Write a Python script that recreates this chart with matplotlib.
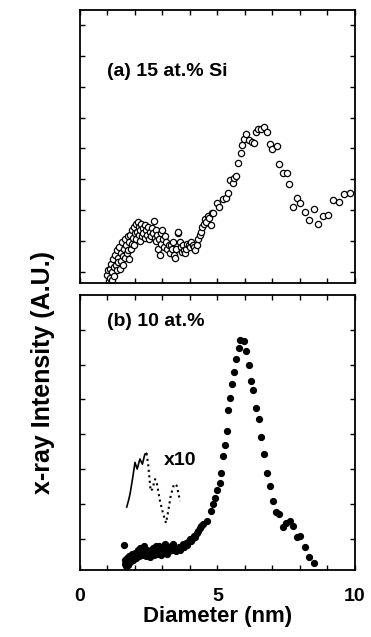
import numpy as np
import matplotlib
matplotlib.use('Agg')
import matplotlib.pyplot as plt

plt.rcParams['font.family'] = ['Liberation Sans', 'DejaVu Sans']
plt.rcParams['font.weight'] = 'bold'

# (a) 15 at.% Si, open circles
x_a = [1.00, 1.02, 1.05, 1.08, 1.10, 1.12, 1.15, 1.18, 1.20, 1.22, 1.25, 1.28, 1.30, 1.33, 1.35,
       1.38, 1.40, 1.43, 1.45, 1.48, 1.50, 1.53, 1.55, 1.58, 1.60, 1.63, 1.65, 1.68, 1.70, 1.73,
       1.75, 1.78, 1.80, 1.83, 1.85, 1.88, 1.90, 1.93, 1.95, 1.98, 2.00, 2.03, 2.05, 2.08, 2.10,
       2.13, 2.15, 2.18, 2.20, 2.23, 2.25, 2.28, 2.30, 2.35, 2.38, 2.40, 2.45, 2.48, 2.50, 2.55,
       2.58, 2.62, 2.65, 2.70, 2.72, 2.75, 2.78, 2.80, 2.85, 2.88, 2.90, 2.93, 2.96, 3.00, 3.03,
       3.06, 3.10, 3.14, 3.18, 3.22, 3.26, 3.30, 3.34, 3.38, 3.42, 3.46, 3.50, 3.55, 3.58, 3.62,
       3.66, 3.70, 3.74, 3.78, 3.82, 3.86, 3.90, 3.95, 4.00, 4.05, 4.10, 4.15, 4.20, 4.25, 4.30,
       4.35, 4.40, 4.45, 4.50, 4.55, 4.60, 4.65, 4.70, 4.75, 4.80,
       4.85, 4.97, 5.07, 5.21, 5.30, 5.39, 5.45, 5.55, 5.60, 5.67, 5.76, 5.84, 5.90, 5.96, 6.04,
       6.16, 6.24, 6.33, 6.40, 6.48, 6.57, 6.70, 6.81, 6.91, 7.00, 7.15, 7.25, 7.37, 7.52, 7.61,
       7.76, 7.90, 8.02, 8.18, 8.34, 8.51, 8.67, 8.85, 9.03, 9.21, 9.41, 9.61, 9.82]
y_a = [-0.10, 0.05, -0.30, 0.10, -0.20, 0.25, 0.00, -0.28, 0.40, 0.15, -0.15, 0.55, 0.20, 0.70, 0.05,
       0.45, 0.30, 0.80, 0.10, 0.60, 0.35, 0.95, 0.50, 0.20, 0.75, 1.05, 0.45, 0.85, 0.60, 1.15,
       0.70, 0.40, 0.95, 1.20, 0.75, 1.35, 0.90, 1.10, 1.45, 0.85, 1.25, 1.55, 1.05, 1.30, 1.60,
       1.20, 1.45, 1.00, 1.35, 1.55, 1.15, 1.40, 1.25, 1.50, 1.10, 1.35, 1.20, 1.45, 1.05, 1.30,
       1.15, 1.40, 1.25, 1.65, 1.10, 1.35, 1.00, 1.20, 0.75, 1.05, 0.55, 0.90, 1.25, 1.35, 1.05,
       0.80, 1.15, 0.95, 0.75, 0.85, 0.60, 0.85, 0.75, 0.95, 0.55, 0.45, 0.75, 1.25, 1.30, 0.95,
       0.80, 0.65, 0.85, 0.70, 0.60, 0.75, 0.90, 0.85, 0.80, 0.95, 0.85, 0.80, 0.70, 0.85, 1.05,
       1.20, 1.30, 1.45, 1.55, 1.70, 1.60, 1.80, 1.75, 1.50, 1.90,
       1.89, 2.22, 2.09, 2.35, 2.38, 2.56, 2.97, 2.89, 3.03, 3.10, 3.51, 3.84, 4.11, 4.29, 4.46,
       4.27, 4.22, 4.16, 4.53, 4.63, 4.62, 4.68, 4.52, 4.14, 3.98, 4.08, 3.49, 3.19, 3.19, 2.84,
       2.11, 2.40, 2.22, 1.95, 1.68, 2.02, 1.55, 1.81, 1.84, 2.32, 2.27, 2.52, 2.56]

# (b) 10 at.%, filled circles
x_b = [1.61, 1.62, 1.65, 1.68, 1.70, 1.72, 1.75, 1.78, 1.80, 1.83, 1.86, 1.90, 1.93, 1.96, 2.00,
       2.03, 2.06, 2.10, 2.13, 2.16, 2.20, 2.24, 2.28, 2.32, 2.36, 2.40, 2.44, 2.48, 2.52, 2.56,
       2.60, 2.64, 2.68, 2.72, 2.76, 2.80, 2.84, 2.88, 2.92, 2.96, 3.00, 3.04, 3.08, 3.12, 3.16,
       3.20, 3.25, 3.30, 3.35, 3.40, 3.45, 3.50, 3.55, 3.60, 3.65, 3.70, 3.75, 3.80, 3.85, 3.90,
       3.95, 4.00, 4.05, 4.10, 4.15, 4.20, 4.25, 4.30, 4.35, 4.40,
       4.47, 4.61, 4.76, 4.83, 4.92, 5.00, 5.10, 5.14, 5.20, 5.27, 5.33, 5.40, 5.46, 5.54, 5.60,
       5.67, 5.77, 5.83, 5.95, 6.05, 6.16, 6.23, 6.31, 6.41, 6.50, 6.59, 6.69, 6.80, 6.90, 7.02,
       7.14, 7.25, 7.37, 7.50, 7.63, 7.75, 7.88, 8.01, 8.18, 8.33, 8.50]
y_b = [-0.19, -0.72, -0.60, -0.78, -0.65, -0.55, -0.75, -0.62, -0.50, -0.68, -0.58, -0.45, -0.62, -0.52, -0.40,
       -0.55, -0.45, -0.32, -0.50, -0.42, -0.28, -0.48, -0.38, -0.22, -0.42, -0.50, -0.32, -0.45, -0.38, -0.52,
       -0.42, -0.26, -0.46, -0.35, -0.22, -0.44, -0.32, -0.20, -0.38, -0.46, -0.28, -0.38, -0.16, -0.34, -0.45,
       -0.26, -0.36, -0.22, -0.32, -0.15, -0.28, -0.36, -0.30, -0.24, -0.32, -0.22, -0.16, -0.24, -0.12, -0.18,
       -0.08, -0.02, -0.08, 0.02, 0.08, 0.05, 0.15, 0.22, 0.30, 0.36,
       0.41, 0.50, 0.79, 0.99, 1.18, 1.40, 1.59, 1.89, 2.37, 2.68, 3.08, 3.69, 4.05, 4.43, 4.80,
       5.16, 5.48, 5.72, 5.67, 5.40, 4.99, 4.53, 4.27, 3.74, 3.43, 2.91, 2.42, 1.90, 1.50, 1.07,
       0.77, 0.70, 0.34, 0.45, 0.50, 0.36, 0.05, 0.09, -0.25, -0.52, -0.71]

# x10 magnified trace in (b)
x_mag = [1.70, 1.76, 1.82, 1.92, 2.00, 2.08, 2.18, 2.27, 2.36, 2.42]
y_mag = [0.91, 1.08, 1.28, 1.76, 2.19, 2.00, 2.29, 2.14, 2.43, 2.45]
x_mag2 = [2.42, 2.48, 2.57, 2.63, 2.73, 2.79, 2.91, 3.03, 3.13, 3.21, 3.30, 3.42, 3.52, 3.64]
y_mag2 = [2.45, 2.14, 1.37, 1.42, 1.71, 1.61, 1.08, 0.70, 0.45, 0.79, 1.23, 1.57, 1.52, 1.08]

fig = plt.figure(figsize=(3.71, 6.37), dpi=100)
ax1 = fig.add_axes([0.2156, 0.5557, 0.741, 0.4286])
ax2 = fig.add_axes([0.2156, 0.1052, 0.741, 0.4317])

ax1.plot(x_a, y_a, 'o', mfc='white', mec='black', ms=4.5, mew=0.9, ls='none')
ax1.set_xlim(0, 10)
ax1.set_ylim(-0.37, 8.49)
ax1.set_yticks(range(0, 9))
ax1.text(0.98, 6.48, '(a) 15 at.% Si', fontsize=14, fontweight='bold', va='center')

ax2.plot(x_b, y_b, 'o', color='black', ms=4.2, ls='none')
ax2.plot(x_mag, y_mag, '-', color='black', lw=1.2)
ax2.plot(x_mag2, y_mag2, ':', color='black', lw=1.5)
ax2.text(3.05, 2.24, 'x10', fontsize=14, fontweight='bold', va='center')
ax2.text(0.98, 6.24, '(b) 10 at.%', fontsize=14, fontweight='bold', va='center')
ax2.set_xlim(0, 10)
ax2.set_ylim(-0.9, 7.0)
ax2.set_yticks(range(0, 7))
ax2.set_xticks([0, 5, 10])
ax2.set_xlabel('Diameter (nm)', fontsize=16, fontweight='bold', labelpad=1)

for ax in (ax1, ax2):
    ax.set_xticks(range(0, 11), minor=True)
    ax.tick_params(which='both', direction='in', top=True, right=True, length=3.5, width=1)
    ax.set_yticklabels([])
    for s in ax.spines.values():
        s.set_linewidth(1.3)
ax1.set_xticks(range(0, 11))
ax1.set_xticklabels([])
ax2.tick_params(axis='x', labelsize=14, pad=13)

fig.text(0.117, 0.416, 'x-ray Intensity (A.U.)', rotation=90, fontsize=18,
         fontweight='bold', ha='center', va='center')

fig.savefig('out.png', dpi=100)
